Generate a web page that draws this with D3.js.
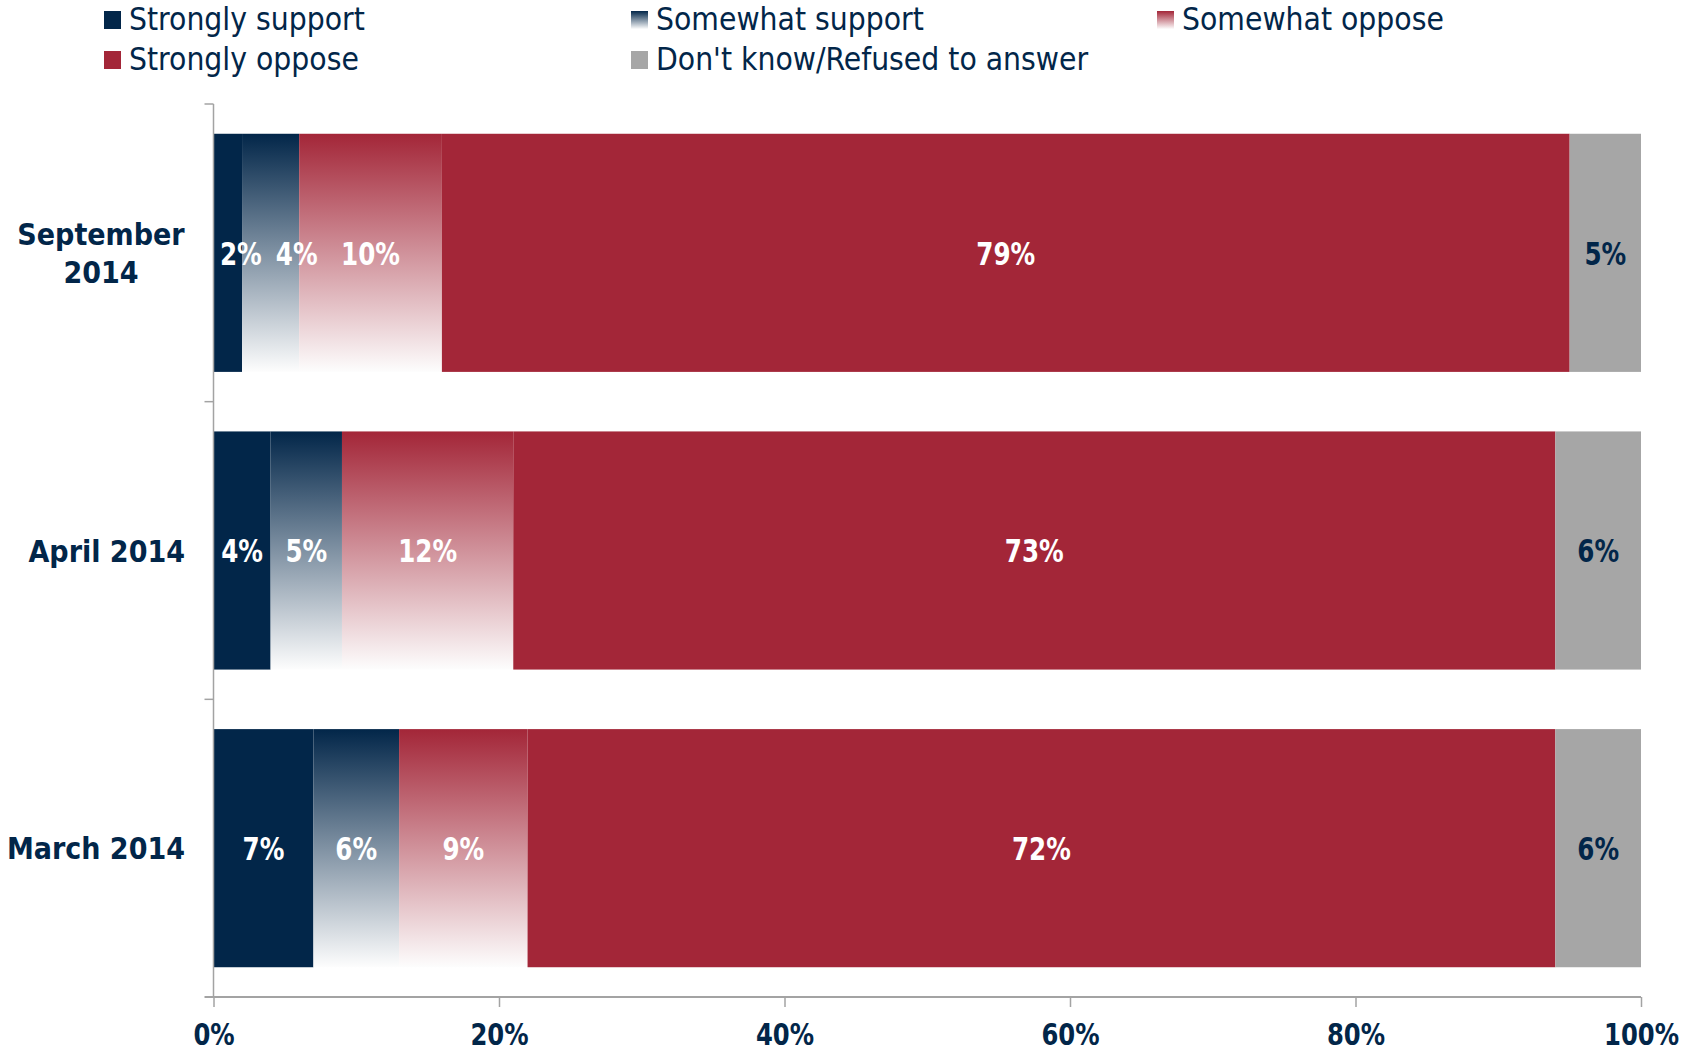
<!DOCTYPE html>
<html><head><meta charset="utf-8">
<script src="https://cdn.jsdelivr.net/npm/d3@7"></script>
<style>body{margin:0;background:#fff} svg{display:block}</style>
</head><body><svg id="chart" width="1684" height="1052"></svg>
<script>
// ---- data ----
const categories = ["September 2014", "April 2014", "March 2014"];
const seriesNames = ["Strongly support", "Somewhat support", "Somewhat oppose", "Strongly oppose", "Don't know/Refused to answer"];
const stronglySupport = [2, 4, 7];
const somewhatSupport = [4, 5, 6];
const somewhatOppose = [10, 12, 9];
const stronglyOppose = [79, 73, 72];
const dontKnow = [5, 6, 6];
const xTicks = [0, 20, 40, 60, 80, 100];

const seriesValues = [stronglySupport, somewhatSupport, somewhatOppose, stronglyOppose, dontKnow];

// ---- styles ----
const NAVY = "#022649", RED = "#A32638", GRAY = "#A6A6A6", AXIS = "#A3A3A3";
const fills = ["url(#gNavySolid)", "url(#gNavy)", "url(#gRed)", RED, GRAY];
const swatchFills = [NAVY, "url(#gNavy)", "url(#gRed)", RED, GRAY];
const labelColors = ["#fff", "#fff", "#fff", "#fff", NAVY];
const FONT = "'DejaVu Sans Condensed','DejaVu Sans',sans-serif";
const SQ = 0.855; // horizontal squeeze of the bold numeric labels

const svg = d3.select("#chart");
const defs = svg.append("defs");
function grad(id, c) {
  const g = defs.append("linearGradient").attr("id", id).attr("x1", 0).attr("y1", 0).attr("x2", 0).attr("y2", 1);
  g.append("stop").attr("offset", "0%").attr("stop-color", c);
  g.append("stop").attr("offset", "100%").attr("stop-color", id === "gNavySolid" ? c : "#fdfdfd");
}
grad("gNavySolid", NAVY); grad("gNavy", NAVY); grad("gRed", RED);

// ---- scales ----
const x = d3.scaleLinear().domain([0, 100]).range([213.5, 1641]);
const y = d3.scaleBand().domain(categories).range([104, 997]).paddingInner(0.2).paddingOuter(0.1);

// stack
const rows = categories.map((c, i) => {
  let acc = 0;
  return seriesValues.map((arr, s) => { const v = arr[i]; const seg = {cat: c, s, v, x0: acc, x1: acc + v}; acc += v; return seg; });
});

// ---- bars ----
const gBars = svg.append("g");
rows.forEach(row => {
  gBars.selectAll(null).data(row).enter().append("rect")
    .attr("x", d => x(d.x0)).attr("width", d => x(d.x1) - x(d.x0))
    .attr("y", d => y(d.cat)).attr("height", y.bandwidth())
    .attr("fill", d => fills[d.s]);
});

// ---- axes ----
const yTop = y.range()[0], yBot = y.range()[1];
svg.append("line").attr("x1", x(0)).attr("x2", x(0)).attr("y1", yTop).attr("y2", yBot)
  .attr("stroke", AXIS).attr("stroke-width", 1.5);
const bounds = d3.range(categories.length + 1).map(i => yTop + i * (yBot - yTop) / categories.length);
svg.selectAll(null).data(bounds.slice(0, -1)).enter().append("line")
  .attr("x1", x(0) - 9).attr("x2", x(0)).attr("y1", d => d).attr("y2", d => d)
  .attr("stroke", AXIS).attr("stroke-width", 1.5);

const xAxis = svg.append("g").attr("transform", `translate(0,${yBot})`)
  .call(d3.axisBottom(x).tickValues(xTicks).tickFormat(d => d + "%").tickSize(10).tickSizeOuter(0).tickPadding(30));
xAxis.select(".domain").remove();
xAxis.append("line").attr("x1", x(0) - 9).attr("x2", x(100)).attr("y1", 0).attr("y2", 0)
  .attr("stroke", AXIS).attr("stroke-width", 2);
xAxis.selectAll(".tick line").attr("stroke", AXIS).attr("stroke-width", 1.5);
xAxis.selectAll(".tick text").attr("fill", NAVY).attr("font-family", FONT).attr("font-weight", "bold")
  .attr("font-size", 30).attr("dy", null).attr("y", 48).attr("transform", `scale(0.9,1)`);

// ---- category labels ----
const catRight = 185;
categories.forEach(c => {
  const cy = y(c) + y.bandwidth() / 2;
  const t = svg.append("text").attr("fill", NAVY).attr("font-family", FONT).attr("font-weight", "bold")
    .attr("font-size", 30).attr("text-anchor", "middle");
  t.text(c);
  let lines = [c];
  if (t.node().getComputedTextLength() > 195) lines = c.split(" ");
  t.text(null);
  const lh = 37.5;
  lines.forEach((ln, i) => {
    t.append("tspan").attr("x", 0).attr("y", cy + 11 + (i - (lines.length - 1) / 2) * lh).text(ln);
  });
  const bb = t.node().getBBox();
  t.attr("transform", `translate(${catRight - bb.width / 2},0)`);
});

// ---- data labels ----
rows.forEach(row => {
  const cy = y(row[0].cat) + y.bandwidth() / 2;
  let prevRight = -Infinity;
  row.forEach(d => {
    const t = svg.append("text").attr("fill", labelColors[d.s]).attr("font-family", FONT).attr("font-weight", "bold")
      .attr("font-size", 32).attr("text-anchor", "middle").text(d.v + "%");
    const w = t.node().getComputedTextLength() * SQ;
    const segL = x(d.x0), segR = x(d.x1);
    let left = (w > segR - segL) ? segL + 6.5 : (segL + segR) / 2 - w / 2;
    left = Math.max(left, prevRight + 14);
    prevRight = left + w;
    t.attr("transform", `translate(${left + w / 2},${cy + 11.7}) scale(${SQ},1)`);
  });
});

// ---- legend ----
const legX = [104, 631, 1157], legY = [11, 51];
seriesNames.forEach((n, i) => {
  const lx = legX[i % 3], ly = legY[Math.floor(i / 3)];
  svg.append("rect").attr("x", lx).attr("y", ly).attr("width", 17).attr("height", 18).attr("fill", swatchFills[i]);
  svg.append("text").attr("x", lx + 25).attr("y", ly + 19).attr("fill", NAVY).attr("font-family", FONT)
    .attr("font-size", 31.5).text(n);
});
</script></body></html>
